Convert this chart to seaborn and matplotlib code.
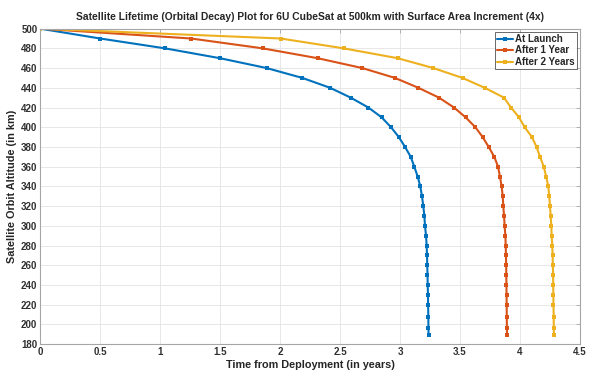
import numpy as np
import pandas as pd
import matplotlib
matplotlib.use("Agg")
import matplotlib.pyplot as plt
import seaborn as sns

# altitude steps (km)
altitude = [500, 490, 480, 470, 460, 450, 440, 430, 420, 410, 400, 390, 380,
            370, 360, 350, 340, 330, 320, 310, 300, 290, 280, 270, 260, 250,
            240, 230, 220, 207, 196, 189]

# time from deployment (years)
t_launch = [0, 0.5, 1.042, 1.5, 1.889, 2.186, 2.417, 2.589, 2.736, 2.847,
            2.925, 2.99, 3.042, 3.089, 3.119, 3.147, 3.169, 3.183, 3.194,
            3.203, 3.208, 3.217, 3.222, 3.225, 3.227, 3.229, 3.231, 3.233,
            3.234, 3.236, 3.237, 3.238]
t_1year = [0, 1.258, 1.856, 2.314, 2.686, 2.958, 3.153, 3.325, 3.45, 3.547,
           3.628, 3.689, 3.739, 3.786, 3.817, 3.833, 3.847, 3.856, 3.861,
           3.867, 3.872, 3.878, 3.881, 3.883, 3.885, 3.886, 3.887, 3.888,
           3.889, 3.890, 3.891, 3.892]
t_2years = [0, 2.006, 2.531, 2.981, 3.278, 3.521, 3.706, 3.867, 3.925, 3.992,
            4.039, 4.1, 4.138, 4.167, 4.198, 4.218, 4.236, 4.244, 4.25, 4.256,
            4.261, 4.264, 4.269, 4.272, 4.274, 4.276, 4.277, 4.278, 4.279,
            4.281, 4.282, 4.283]

labels = ["At Launch", "After 1 Year", "After 2 Years"]
colors = ["#0072BD", "#D95319", "#EDB120"]

df = pd.concat([
    pd.DataFrame({"t": t, "alt": altitude, "case": lab})
    for t, lab in zip([t_launch, t_1year, t_2years], labels)
])

sns.set_style("whitegrid")
plt.rcParams["font.family"] = ["Liberation Sans", "DejaVu Sans"]

fig = plt.figure(figsize=(5.9, 3.72), dpi=100)
ax = fig.add_axes([0.068, 0.075, 0.915, 0.848])

for lab, col in zip(labels, colors):
    d = df[df["case"] == lab]
    sns.lineplot(data=d, x="t", y="alt", sort=False, estimator=None,
                 color=col, linewidth=1.5, marker="s", markersize=2.6,
                 markeredgewidth=0, label=lab, ax=ax)

ax.set_xlim(0, 4.5)
ax.set_ylim(180, 500)
ax.set_xticks(np.arange(0, 4.51, 0.5))
ax.set_xticklabels(["0", "0.5", "1", "1.5", "2", "2.5", "3", "3.5", "4", "4.5"])
ax.set_yticks(np.arange(180, 501, 20))
ax.grid(True, color="#e3e3e3", linewidth=0.6)
for s in ax.spines.values():
    s.set_color("#a6a6a6")
    s.set_linewidth(0.8)
ax.tick_params(direction="in", length=3, width=0.6, color="#a6a6a6",
               top=True, right=True, labelsize=7, labelcolor="#303030", pad=2)
for lbl in ax.get_xticklabels() + ax.get_yticklabels():
    lbl.set_fontweight("bold")

ax.set_title("Satellite Lifetime (Orbital Decay) Plot for 6U CubeSat at 500km with Surface Area Increment (4x)",
             fontsize=7.4, fontweight="bold", pad=6)
ax.set_xlabel("Time from Deployment (in years)", fontsize=7.8, fontweight="bold", labelpad=2)
ax.set_ylabel("Satellite Orbit Altitude (in km)", fontsize=7.8, fontweight="bold", labelpad=3)

leg = ax.legend(loc="upper right", fontsize=7, frameon=True, fancybox=False,
                handlelength=1.6, handletextpad=0.2, borderpad=0.25,
                labelspacing=0.15, borderaxespad=0.3)
leg.get_frame().set_edgecolor("#262626")
leg.get_frame().set_linewidth(0.6)
for txt in leg.get_texts():
    txt.set_fontweight("bold")

fig.savefig("out.png", dpi=100)
